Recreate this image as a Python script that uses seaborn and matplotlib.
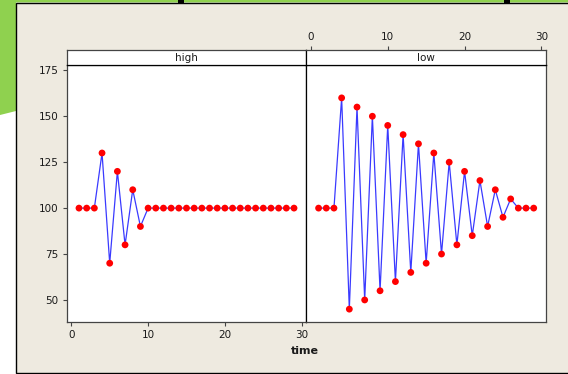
import matplotlib
matplotlib.use("Agg")
import matplotlib.pyplot as plt
import seaborn as sns
import pandas as pd
from matplotlib.patches import Rectangle, Polygon

# ---- data ----
time = [1, 2, 3, 4, 5, 6, 7, 8, 9, 10, 11, 12, 13, 14, 15, 16, 17, 18, 19, 20,
        21, 22, 23, 24, 25, 26, 27, 28, 29]
high = [100, 100, 100, 130, 70, 120, 80, 110, 90, 100, 100, 100, 100, 100, 100,
        100, 100, 100, 100, 100, 100, 100, 100, 100, 100, 100, 100, 100, 100]
low = [100, 100, 100, 160, 45, 155, 50, 150, 55, 145, 60, 140, 65, 135, 70, 130,
       75, 125, 80, 120, 85, 115, 90, 110, 95, 105, 100, 100, 100]
panels = ["high", "low"]
x_ticks = [0, 10, 20, 30]
y_ticks = [50, 75, 100, 125, 150, 175]
x_label = "time"

df = pd.concat([
    pd.DataFrame({"time": time, "value": high, "level": "high"}),
    pd.DataFrame({"time": time, "value": low, "level": "low"}),
], ignore_index=True)

plt.rcParams["font.family"] = ["DejaVu Sans"]

W, H = 568, 374
fig = plt.figure(figsize=(W / 100, H / 100), dpi=100, facecolor="white")


def fr(x0, y0, x1, y1):
    return [x0 / W, 1 - y1 / H, (x1 - x0) / W, (y1 - y0) / H]


def px(x, y):
    return (x / W, 1 - y / H)


# background decoration
green = Polygon([px(0, 0), px(W, 0), px(W, 2.5), px(16, 2.5), px(16, 111), px(0, 115)],
                closed=True, transform=fig.transFigure, facecolor="#8FD14F",
                edgecolor="none", zorder=-10)
fig.add_artist(green)
beige = Rectangle(px(16, 372.5), (W + 10 - 16) / W, (372.5 - 2.5) / H,
                  transform=fig.transFigure, facecolor="#EEEAE0",
                  edgecolor="black", linewidth=1.0, zorder=-9)
fig.add_artist(beige)
for bx in (178, 504):
    fig.add_artist(Rectangle(px(bx, 3), 6 / W, 3 / H, transform=fig.transFigure,
                             facecolor="black", edgecolor="none", zorder=-8))

PL, PM, PR = 66.7, 306.3, 546.0
ST, PT, PB = 49.7, 65.0, 322.0
XLIM = (-0.6, 30.6)
YLIM = (38.0, 177.9)
spine_c = "#444444"
txt_c = "#1a1a1a"
blue = "#3A3AFF"

ax_l = fig.add_axes(fr(PL, PT, PM, PB))
ax_r = fig.add_axes(fr(PM, PT, PR, PB))
st_l = fig.add_axes(fr(PL, ST, PM, PT))
st_r = fig.add_axes(fr(PM, ST, PR, PT))

for ax, lev in zip([ax_l, ax_r], panels):
    sub = df[df["level"] == lev]
    sns.lineplot(data=sub, x="time", y="value", ax=ax, color=blue, linewidth=0.9,
                 zorder=2)
    sns.scatterplot(data=sub, x="time", y="value", ax=ax, color="#FF0000", s=24,
                    edgecolor="none", linewidth=0, zorder=3)
    ax.set_xlim(*XLIM)
    ax.set_ylim(*YLIM)
    ax.set_xlabel("")
    ax.set_ylabel("")
    ax.set_facecolor("white")
    for s in ax.spines.values():
        s.set_color(spine_c)
        s.set_linewidth(0.9)
    ax.set_xticks(x_ticks)
    ax.set_yticks(y_ticks)
    ax.tick_params(direction="out", length=3.2, width=0.8, color=spine_c,
                   labelcolor=txt_c, labelsize=7.5, pad=2.5)

ax_l.tick_params(top=False, right=False)
ax_r.tick_params(left=False, labelleft=False, bottom=False, labelbottom=False,
                 top=False, right=False)
ax_r.spines["left"].set_color("black")

for st, lev in zip([st_l, st_r], panels):
    st.set_xlim(*XLIM)
    st.set_ylim(0, 1)
    st.set_facecolor("white")
    st.set_yticks([])
    for s in st.spines.values():
        s.set_color(spine_c)
        s.set_linewidth(0.9)
    st.spines["bottom"].set_color("black")
    st.text(0.5, 0.45, lev, transform=st.transAxes, ha="center", va="center",
            fontsize=7.5, color=txt_c)

st_l.set_xticks([])
st_r.set_xticks(x_ticks)
st_r.xaxis.tick_top()
st_r.tick_params(axis="x", direction="out", length=3.2, width=0.8, color=spine_c,
                 labelcolor=txt_c, labelsize=7.5, pad=2.5, bottom=False)
st_r.spines["left"].set_color("black")

fig.text(305 / W, 1 - 351 / H, x_label, ha="center", va="center",
         fontsize=8, fontweight="bold", color=txt_c)

fig.savefig("out.png", dpi=100, facecolor=fig.get_facecolor())
